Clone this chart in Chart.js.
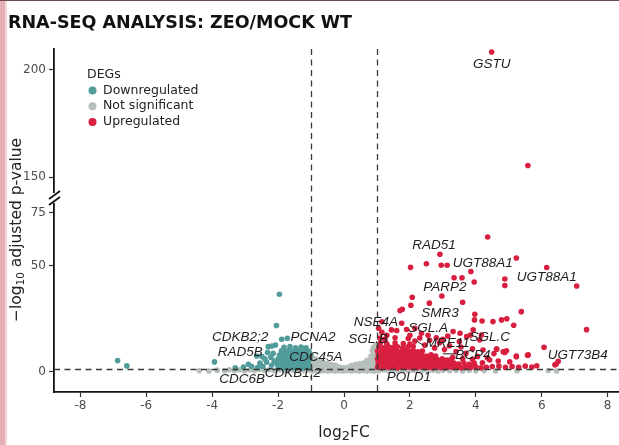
<!DOCTYPE html>
<html>
<head>
<meta charset="utf-8">
<title>RNA-seq volcano plot</title>
<script src="https://cdn.jsdelivr.net/npm/chart.js@4.4.0/dist/chart.umd.min.js"></script>
<style>
  html, body { margin: 0; padding: 0; background: #fff; overflow: hidden; }
  #wrap { position: relative; width: 640px; height: 445px; }
</style>
</head>
<body>
<div id="wrap"><canvas id="volcano" width="640" height="445"></canvas></div>
<script>
// log2FC / -log10(padj) pairs per DEG class
const downPoints = [
  [-6.87, 5.2], [-6.59, 2.7], [-3.93, 4.6], [-1.96, 36.5], [-2.05, 21.8],
  [-1.89, 15.3], [-1.72, 15.7], [-2.19, 12.1], [-2.08, 12.6], [-2.3, 11.8],
  [-2.49, 7.1], [-2.32, 9.0], [-2.22, 6.8], [-2.65, 7.4], [-2.55, 4.0],
  [-2.46, 2.4], [-2.62, 1.9], [-2.8, 2.4], [-3.05, 2.2], [-2.9, 3.5],
  [-3.3, 1.8], [-2.35, 4.5], [-2.2, 3.0], [-2.12, 5.0], [-2.15, 8.6], [-2.4, 6.0],
  [-2.0, 1.8], [-1.88, 2.0], [-1.76, 1.7], [-1.64, 2.1], [-1.52, 1.8], [-1.4, 2.0],
  [-1.28, 1.7], [-1.16, 2.1], [-1.04, 1.8],
  [-2.04, 3.8], [-1.92, 4.1], [-1.8, 3.7], [-1.68, 4.0], [-1.56, 3.8], [-1.44, 4.1],
  [-1.32, 3.7], [-1.2, 4.0], [-1.08, 3.8],
  [-2.0, 5.9], [-1.88, 5.6], [-1.76, 6.0], [-1.64, 5.7], [-1.52, 6.0], [-1.4, 5.6],
  [-1.28, 5.9], [-1.16, 5.7], [-1.04, 6.0],
  [-1.96, 7.8], [-1.84, 7.5], [-1.72, 7.9], [-1.6, 7.6], [-1.48, 7.9], [-1.36, 7.5],
  [-1.24, 7.8], [-1.12, 7.6], [-1.02, 7.9],
  [-1.9, 9.8], [-1.78, 9.5], [-1.66, 9.9], [-1.54, 9.6], [-1.42, 9.9], [-1.3, 9.5],
  [-1.18, 9.8], [-1.06, 9.6],
  [-1.82, 11.5], [-1.64, 11.8], [-1.47, 11.3], [-1.3, 11.6], [-1.15, 11.2]
];

const nsPoints = [
  [-4.39, 0.5], [-4.1, 0.3], [-3.85, 0.7], [-3.62, 0.4], [-3.48, 0.9], [-3.32, 0.5],
  [-3.17, 0.9], [-3.02, 0.4], [-2.86, 0.8], [-2.72, 0.5], [-2.57, 1.0], [-2.42, 0.6],
  [-2.27, 0.9], [-2.12, 0.4], [-1.97, 0.8], [-1.82, 0.5], [-1.67, 0.9], [-1.52, 0.4],
  [-1.37, 0.8], [-1.22, 0.5], [-1.07, 0.9],
  [-0.98, 0.3], [-0.98, 2.1], [-0.98, 3.9], [-0.98, 5.7], [-0.98, 7.2],
  [-0.86, 0.5], [-0.86, 2.3], [-0.86, 4.1], [-0.86, 5.9],
  [-0.74, 0.3], [-0.74, 2.1], [-0.74, 3.9], [-0.74, 5.4],
  [-0.62, 0.5], [-0.62, 2.3], [-0.62, 4.2],
  [-0.5, 0.3], [-0.5, 2.1], [-0.5, 3.8],
  [-0.38, 0.5], [-0.38, 2.3], [-0.38, 3.4],
  [-0.26, 0.3], [-0.26, 2.0], [-0.26, 3.0],
  [-0.14, 0.5], [-0.14, 2.2],
  [-0.02, 0.3], [-0.02, 1.9],
  [0.1, 0.5], [0.1, 2.1],
  [0.22, 0.3], [0.22, 2.2], [0.22, 2.9],
  [0.34, 0.5], [0.34, 2.3], [0.34, 3.3],
  [0.46, 0.3], [0.46, 2.0], [0.46, 3.7],
  [0.58, 0.5], [0.58, 2.2], [0.58, 4.0],
  [0.7, 0.3], [0.7, 2.1], [0.7, 3.9], [0.7, 5.4],
  [0.82, 0.5], [0.82, 2.3], [0.82, 4.1], [0.82, 5.9], [0.82, 7.4],
  [0.92, 0.3], [0.92, 2.1], [0.92, 3.9], [0.92, 5.7], [0.92, 7.5], [0.92, 9.0],
  [0.98, 1.2], [0.98, 3.0], [0.98, 4.8], [0.98, 6.6], [0.98, 8.4], [0.98, 10.2],
  [0.86, 10.0], [0.9, 11.5], [0.96, 12.5],
  [1.05, 0.4], [1.2, 0.8], [1.35, 0.3], [1.5, 0.7], [1.65, 0.3], [1.8, 0.8],
  [1.95, 0.4], [2.1, 0.7], [2.25, 0.3], [2.4, 0.8], [2.55, 0.4], [2.7, 0.7],
  [2.85, 0.3], [3.0, 0.6], [3.2, 0.4], [3.4, 0.7], [3.6, 0.3], [3.8, 0.6],
  [4.0, 0.4], [4.25, 0.5], [4.6, 0.3], [5.25, 0.4], [6.2, 0.5], [6.45, 0.3]
];

const upPoints = [
  // dense block just past the fold-change cut
  [1.02, 2.1], [1.14, 1.8], [1.26, 2.2], [1.38, 1.9], [1.5, 2.3], [1.62, 1.8],
  [1.74, 2.1], [1.86, 1.9], [1.98, 2.2], [2.1, 1.8], [2.22, 2.0], [2.34, 2.3],
  [2.46, 1.9], [2.58, 2.1], [2.7, 1.8], [2.82, 2.2], [2.94, 2.0], [3.06, 1.8],
  [3.18, 2.3], [3.3, 1.9], [3.42, 2.1], [3.56, 1.8], [3.7, 2.2], [3.85, 1.9],
  [4.0, 2.3], [4.16, 1.8], [4.32, 2.1], [4.5, 2.4],
  [1.04, 3.9], [1.16, 4.2], [1.28, 3.8], [1.4, 4.1], [1.52, 3.7], [1.64, 4.0],
  [1.76, 4.3], [1.88, 3.8], [2.0, 4.1], [2.12, 3.9], [2.24, 4.2], [2.36, 3.7],
  [2.48, 4.0], [2.6, 4.3], [2.72, 3.8], [2.84, 4.1], [2.96, 3.9], [3.08, 4.2],
  [3.2, 3.7], [3.34, 4.0], [3.48, 3.6], [3.64, 4.1], [3.8, 3.5], [3.95, 4.0],
  [1.02, 5.9], [1.14, 5.6], [1.26, 6.0], [1.38, 5.7], [1.5, 6.1], [1.62, 5.8],
  [1.74, 5.5], [1.86, 6.0], [1.98, 5.7], [2.1, 6.1], [2.22, 5.8], [2.34, 5.5],
  [2.46, 6.0], [2.58, 5.7], [2.7, 5.9], [2.84, 5.6], [2.98, 6.0], [3.12, 5.5], [3.26, 5.8],
  [1.04, 7.8], [1.16, 7.5], [1.28, 7.9], [1.4, 7.6], [1.52, 8.0], [1.64, 7.7],
  [1.76, 7.4], [1.88, 7.9], [2.0, 7.6], [2.12, 8.0], [2.24, 7.5], [2.36, 7.8],
  [2.5, 7.4], [2.64, 7.9], [2.78, 7.3],
  [1.02, 9.7], [1.14, 9.4], [1.26, 9.8], [1.38, 9.5], [1.5, 9.9], [1.62, 9.6],
  [1.74, 9.3], [1.86, 9.8], [1.98, 9.5], [2.1, 9.9], [2.24, 9.4], [2.38, 9.7],
  [1.06, 11.6], [1.2, 11.3], [1.34, 11.8], [1.48, 11.4], [1.62, 11.7], [1.78, 11.2],
  [1.94, 11.6], [2.1, 11.9],
  [1.1, 13.4], [1.3, 13.1], [1.55, 13.5], [1.8, 13.2], [2.0, 13.0],
  // scattered genes above the block
  [1.05, 20.5], [1.15, 23.5], [1.09, 15.8], [1.24, 15.2], [1.44, 19.7], [1.6, 19.4],
  [1.9, 19.9], [2.15, 20.5], [2.35, 18.1], [1.3, 17.2], [1.15, 18.5], [1.55, 16.0],
  [1.95, 15.6], [2.15, 14.4], [2.3, 15.9], [2.0, 17.2], [2.55, 17.2], [2.8, 16.0],
  [3.0, 15.2], [3.15, 16.8], [2.45, 12.5], [2.6, 14.8], [2.75, 11.2], [2.9, 13.6],
  [3.05, 10.4], [3.2, 12.2], [3.4, 9.5], [3.55, 11.6], [3.7, 8.6], [3.9, 10.8],
  [4.05, 7.2], [3.5, 14.2], [3.3, 6.8], [3.6, 6.0], [3.9, 5.8], [4.2, 4.2],
  [4.35, 6.5], [4.55, 8.5], [4.7, 2.6], [4.9, 2.0], [5.1, 2.4], [5.3, 2.0],
  [5.5, 2.6], [5.7, 2.2], [5.85, 2.8], [3.31, 18.9], [3.52, 18.1], [3.72, 16.5],
  [3.92, 19.7], [4.17, 17.3], [3.84, 17.3], [4.12, 15.0], [4.22, 10.2], [4.63, 10.6],
  [4.83, 9.4], [4.93, 9.8], [5.23, 7.0], [5.59, 7.9], [4.42, 5.5], [4.68, 5.0],
  [5.03, 4.7], [6.4, 3.2], [1.75, 22.8],
  // strongest responders
  [4.36, 63.5], [2.91, 55.4], [2.02, 49.2], [2.5, 50.9], [2.95, 50.2], [3.13, 50.2],
  [5.23, 53.6], [3.85, 47.2], [6.15, 49.1], [7.06, 40.4], [4.88, 43.7], [4.88, 40.6],
  [3.34, 44.3], [3.58, 44.3], [3.95, 42.3], [2.97, 35.7], [2.07, 35.1], [2.59, 32.3],
  [3.6, 32.7], [2.03, 31.3], [1.77, 29.4], [1.7, 28.8], [5.38, 28.3], [3.97, 27.1],
  [3.96, 24.4], [4.19, 23.9], [4.52, 23.6], [4.78, 24.4], [4.94, 24.9], [5.15, 21.9],
  [7.36, 19.8], [6.07, 11.5], [6.5, 4.9], [6.44, 3.6], [5.23, 7.4], [5.57, 7.7],
  [4.88, 9.0], [4.63, 10.6]
];

// above the axis break
const upHighPoints = [[4.48, 208.4], [5.58, 155.4]];

const xTicks = [-8, -6, -4, -2, 0, 2, 4, 6, 8];
const yLowTicks = [0, 50, 75];
const yHighTicks = [150, 200];

// gene name, log2FC, -log10 padj where the name sits
const geneLabels = [
  ['GSTU', 4.48, 202.8], ['RAD51', 2.73, 59.8], ['UGT88A1', 4.21, 51.3],
  ['UGT88A1', 6.15, 44.7], ['PARP2', 3.06, 40.0], ['SMR3', 2.91, 27.7],
  ['NSE4A', 0.97, 23.4], ['SGL.A', 2.55, 20.6], ['SGL.C', 4.42, 16.4],
  ['SGL.B', 0.73, 15.4], ['MRE11', 3.15, 13.5], ['BCP4', 3.91, 7.9],
  ['UGT73B4', 7.09, 7.9], ['POLD1', 1.97, -2.5], ['CDKB2;2', -3.15, 16.4],
  ['RAD5B', -3.15, 9.3], ['PCNA2', -0.94, 16.4], ['CDC45A', -0.85, 6.9],
  ['CDKB1;2', -1.55, -0.6], ['CDC6B', -3.09, -3.4]
];

const legendLabels = ['Downregulated', 'Not significant', 'Upregulated'];

const TEAL = '#519c9b';
const GREY = '#b6bfb9';
const RED = '#d81f3f';
const fcCut = 1;
const padjCut = -Math.log10(0.05);

const toXY = pts => pts.map(([x, y]) => ({ x, y }));

const tickFont = { family: 'DejaVu Sans', size: 12 };

const decor = {
  id: 'decor',
  beforeDraw(chart) {
    const ctx = chart.ctx;
    ctx.save();
    ctx.fillStyle = '#fff';
    ctx.fillRect(0, 0, chart.width, chart.height);
    ctx.fillStyle = '#e6aeb7';
    ctx.fillRect(0, 0, 5, chart.height);
    ctx.fillStyle = '#f3d6da';
    ctx.fillRect(5, 0, 2, chart.height);
    ctx.fillStyle = '#6e4a4e';
    ctx.fillRect(0, 0, chart.width, 1);
    ctx.restore();
  },
  afterDatasetsDraw(chart) {
    const { ctx, chartArea: a, scales } = chart;
    ctx.save();
    ctx.strokeStyle = '#3a3a3a';
    ctx.lineWidth = 1.3;
    ctx.setLineDash([6, 4.5]);
    [-fcCut, fcCut].forEach(v => {
      const px = Math.round(scales.x.getPixelForValue(v)) + 0.5;
      ctx.beginPath();
      ctx.moveTo(px, a.top);
      ctx.lineTo(px, a.bottom);
      ctx.stroke();
    });
    const py = Math.round(scales.yLow.getPixelForValue(padjCut)) + 0.5;
    ctx.beginPath();
    ctx.moveTo(a.left, py);
    ctx.lineTo(a.right, py);
    ctx.stroke();
    ctx.restore();
  },
  afterDraw(chart) {
    const { ctx, chartArea: a, scales } = chart;
    const x = scales.x, yLow = scales.yLow, yHigh = scales.yHigh;
    ctx.save();

    // title
    ctx.fillStyle = '#111';
    ctx.font = 'bold 17.5px "DejaVu Sans"';
    ctx.textBaseline = 'alphabetic';
    ctx.textAlign = 'left';
    ctx.fillText('RNA-SEQ ANALYSIS: ZEO/MOCK WT', 8, 28);

    // axis break marks
    const breakY = yHigh.bottom;
    ctx.fillStyle = '#fff';
    ctx.fillRect(a.left - 3, breakY - 5, 6, 10);
    ctx.strokeStyle = '#111';
    ctx.lineWidth = 1.8;
    [-3, 3].forEach(off => {
      ctx.beginPath();
      ctx.moveTo(a.left - 5, breakY + off + 4);
      ctx.lineTo(a.left + 6, breakY + off - 4);
      ctx.stroke();
    });

    // x axis title with subscript
    ctx.fillStyle = '#222';
    ctx.textAlign = 'left';
    const xt = 433;
    const big = '15.5px "DejaVu Sans"', small = '13px "DejaVu Sans"';
    ctx.font = big;
    const w1 = ctx.measureText('log').width, w3 = ctx.measureText('FC').width;
    ctx.font = small;
    const w2 = ctx.measureText('2').width;
    let sx = (a.left + a.right) / 2 - (w1 + w2 + w3) / 2;
    ctx.textBaseline = 'middle';
    ctx.font = big; ctx.fillText('log', sx, xt); sx += w1;
    ctx.font = small; ctx.fillText('2', sx, xt + 4); sx += w2;
    ctx.font = big; ctx.fillText('FC', sx, xt);

    // y axis title, rotated
    ctx.save();
    ctx.translate(17, 230);
    ctx.rotate(-Math.PI / 2);
    const ys = '10.5px "DejaVu Sans"';
    const yb = '15.5px "DejaVu Sans"';
    ctx.font = yb;
    const p1 = ctx.measureText('\u2212log').width;
    const p3 = ctx.measureText(' adjusted p-value').width;
    ctx.font = ys;
    const p2 = ctx.measureText('10').width;
    let ty = -(p1 + p2 + p3) / 2;
    ctx.font = yb; ctx.fillText('\u2212log', ty, 0); ty += p1;
    ctx.font = ys; ctx.fillText('10', ty, 4); ty += p2;
    ctx.font = yb; ctx.fillText(' adjusted p-value', ty, 0);
    ctx.restore();

    // legend
    ctx.fillStyle = '#222';
    ctx.font = '12.5px "DejaVu Sans"';
    ctx.textBaseline = 'middle';
    ctx.fillText('DEGs', 87, 74.5);
    [TEAL, GREY, RED].forEach((c, i) => {
      const cy = 90.5 + i * 15.7;
      ctx.fillStyle = c;
      ctx.beginPath();
      ctx.arc(92.5, cy, 4, 0, Math.PI * 2);
      ctx.fill();
      ctx.fillStyle = '#222';
      ctx.fillText(legendLabels[i], 103, cy);
    });

    // gene labels
    ctx.font = 'italic 13.5px "Liberation Sans"';
    ctx.textAlign = 'center';
    ctx.fillStyle = '#1e1e1e';
    geneLabels.forEach(([name, gx, gy]) => {
      const s = gy > 100 ? yHigh : yLow;
      ctx.fillText(name, x.getPixelForValue(gx), s.getPixelForValue(gy));
    });

    // short leader lines
    ctx.strokeStyle = '#222';
    ctx.lineWidth = 1;
    ctx.beginPath();
    ctx.moveTo(x.getPixelForValue(2.2), yLow.getPixelForValue(14.5));
    ctx.lineTo(x.getPixelForValue(2.42), yLow.getPixelForValue(12.3));
    ctx.moveTo(x.getPixelForValue(3.0), yLow.getPixelForValue(8.4));
    ctx.lineTo(x.getPixelForValue(3.4), yLow.getPixelForValue(8.4));
    ctx.stroke();

    ctx.restore();
  }
};

const yCommon = {
  type: 'linear',
  position: 'left',
  stack: 'y',
  grid: { display: true, drawOnChartArea: false, drawTicks: true, tickLength: 5, tickColor: '#333', tickWidth: 1.2 },
  border: { display: true, color: '#111', width: 1.8 },
  ticks: { font: tickFont, color: '#4d4d4d', padding: 3 },
  afterFit: s => { s.width = 54; }
};

new Chart(document.getElementById('volcano'), {
  type: 'scatter',
  data: {
    datasets: [
      { label: 'Upregulated', data: toXY(upPoints), yAxisID: 'yLow', backgroundColor: RED, order: 1 },
      { label: 'Upregulated', data: toXY(upHighPoints), yAxisID: 'yHigh', backgroundColor: RED, order: 1 },
      { label: 'Downregulated', data: toXY(downPoints), yAxisID: 'yLow', backgroundColor: TEAL, order: 2 },
      { label: 'Not significant', data: toXY(nsPoints), yAxisID: 'yLow', backgroundColor: GREY, order: 3 }
    ]
  },
  options: {
    responsive: false,
    animation: false,
    events: [],
    devicePixelRatio: 1,
    layout: { padding: { top: 49, right: 6, left: 0, bottom: 0 } },
    elements: { point: { radius: 2.8, borderWidth: 0, hoverRadius: 2.8 } },
    plugins: { legend: { display: false }, tooltip: { enabled: false } },
    scales: {
      x: {
        type: 'linear',
        min: -8.8,
        max: 8.8,
        grid: { display: true, drawOnChartArea: false, drawTicks: true, tickLength: 5, tickColor: '#333', tickWidth: 1.2 },
        border: { display: true, color: '#111', width: 1.8 },
        ticks: { font: tickFont, color: '#4d4d4d', padding: 2, maxRotation: 0 },
        afterBuildTicks: s => { s.ticks = xTicks.map(v => ({ value: v })); },
        afterFit: s => { s.height = 53; }
      },
      // left-hand stacked scales are laid out last-first, so the lower segment comes first
      yLow: Object.assign({}, yCommon, {
        min: -9.6, max: 81.9, stackWeight: 194,
        afterBuildTicks: s => { s.ticks = yLowTicks.map(v => ({ value: v })); }
      }),
      yHigh: Object.assign({}, yCommon, {
        min: 140.2, max: 209.8, stackWeight: 149,
        afterBuildTicks: s => { s.ticks = yHighTicks.map(v => ({ value: v })); }
      })
    }
  },
  plugins: [decor]
});
</script>
</body>
</html>
